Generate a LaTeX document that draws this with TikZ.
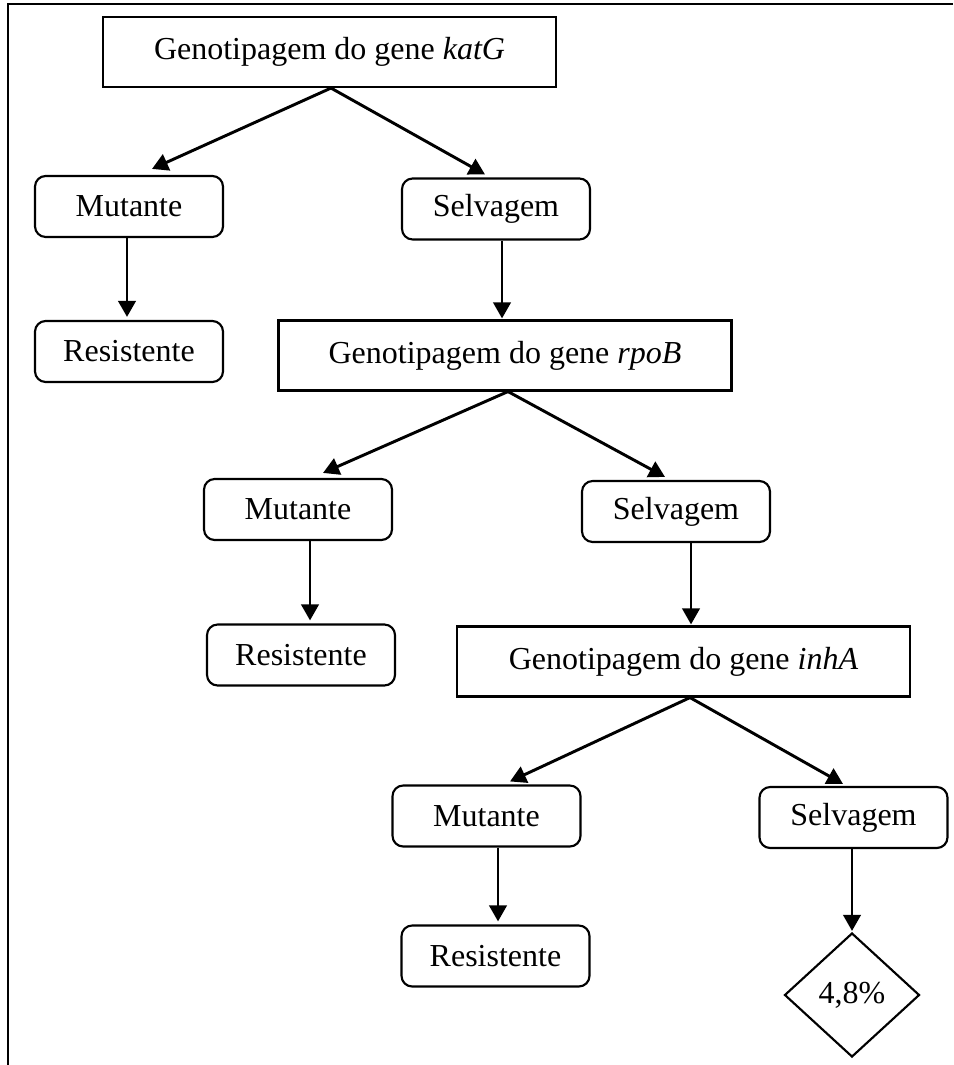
\documentclass[tikz,border=0pt]{standalone}
\usepackage{fontspec}
\setmainfont{Liberation Serif}
\usetikzlibrary{shapes.geometric,arrows.meta,calc}
\begin{document}
\begin{tikzpicture}[x=0.375pt,y=-0.375pt,font=\fontsize{12}{14}\selectfont,
        genebox/.style={draw,thick,minimum width=453*0.375pt,minimum height=70*0.375pt,inner sep=0pt},
        resbox/.style={draw,thick,rounded corners=4pt,minimum width=188*0.375pt,minimum height=61*0.375pt,inner sep=0pt},
        pctbox/.style={draw,thick,diamond,minimum width=135*0.375pt,minimum height=124*0.375pt,inner sep=0pt},
        arr/.style={line width=1.1pt,-{Triangle[length=6pt,width=6.5pt]}}]
        \useasboundingbox (0,0) rectangle (953,1065);
        \draw[thick] (8,1065) -- (8,4) -- (953,4);
        % katG
        \node[genebox] (katG) at (329.5,52) {Genotipagem do gene \textit{katG}};
        \node[resbox] (mut1) at (129,206.5) {Mutante};
        \node[resbox] (sel1) at (496,209) {Selvagem};
        \node[resbox] (res1) at (129,351.5) {Resistente};
        % rpoB
        \node[genebox] (rpoB) at (505,355.5) {Genotipagem do gene \textit{rpoB}};
        \node[resbox] (mut2) at (298,509.5) {Mutante};
        \node[resbox] (sel2) at (676,511.5) {Selvagem};
        \node[resbox] (res2) at (301,655) {Resistente};
        % inhA
        \node[genebox] (inhA) at (683.5,661.5) {Genotipagem do gene \textit{inhA}};
        \node[resbox] (mut3) at (486.5,816) {Mutante};
        \node[resbox] (sel3) at (853.5,817.5) {Selvagem};
        \node[resbox] (res3) at (495.5,956) {Resistente};
        \node[pctbox] (pct) at (852,995) {4,8\%};

        \draw[arr] ($(katG.south)+(1.5,0)$) -- ($(mut1.north)+(23,-6)$);
        \draw[arr] ($(katG.south)+(1.5,0)$) -- ($(sel1.north)+(-11,-3)$);
        \draw[arr] ($(mut1.south)+(-2,0)$) -- ($(res1.north)+(-2,-3)$);
        \draw[arr] ($(sel1.south)+(6,0)$) -- ($(rpoB.north)+(-3,-1)$);
        \draw[arr] ($(rpoB.south)+(3,0)$) -- ($(mut2.north)+(25,-5)$);
        \draw[arr] ($(rpoB.south)+(3,0)$) -- ($(sel2.north)+(-11,-3)$);
        \draw[arr] ($(mut2.south)+(12,0)$) -- ($(res2.north)+(9,-3)$);
        \draw[arr] ($(sel2.south)+(15,0)$) -- ($(inhA.north)+(7.5,-1)$);
        \draw[arr] ($(inhA.south)+(6.5,0)$) -- ($(mut3.north)+(23.5,-3)$);
        \draw[arr] ($(inhA.south)+(6.5,0)$) -- ($(sel3.north)+(-10.5,-2)$);
        \draw[arr] ($(mut3.south)+(11.5,0)$) -- ($(res3.north)+(2.5,-3)$);
        \draw[arr] ($(sel3.south)+(-1.5,0)$) -- ($(pct.north)+(0,-1)$);
      \end{tikzpicture}
\end{document}
